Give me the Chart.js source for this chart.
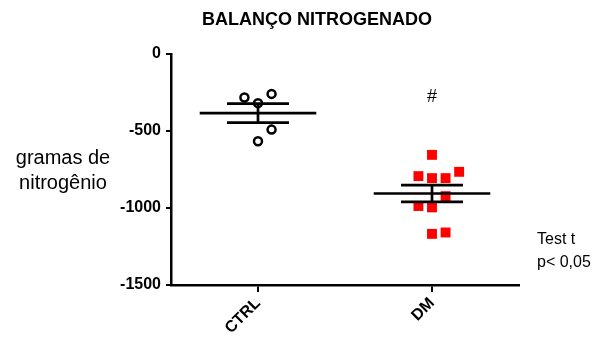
<!DOCTYPE html>
<html>
<head>
<meta charset="utf-8">
<script src="https://cdn.jsdelivr.net/npm/chart.js@4/dist/chart.umd.min.js"></script>
<style>
  html, body { margin: 0; padding: 0; background: #fff; }
  #wrap { width: 604px; height: 340px; }
</style>
</head>
<body>
<div id="wrap"><canvas id="c" width="604" height="340"></canvas></div>
<script>
// Nitrogen balance (grams) per animal, by group
const categories = ['CTRL', 'DM'];
const ctrlValues = [-319, -567, -259, -491, -283];
const dmValues = [-655, -806, -806, -793, -765, -996, -923, -987, -1168, -1159];
const yTickValues = [0, -500, -1000, -1500];

const FONT = '"Liberation Sans", Arial, Helvetica, sans-serif';

function mean(a) { return a.reduce((s, v) => s + v, 0) / a.length; }
function sem(a) {
  const m = mean(a);
  const sd = Math.sqrt(a.reduce((s, v) => s + (v - m) * (v - m), 0) / (a.length - 1));
  return sd / Math.sqrt(a.length);
}

// Simple column swarm: points that would overlap vertically are moved to side columns
function swarmColumns(values, minGap) {
  const order = [0, 1, -1, 2, -2, 3, -3];
  const placed = [];
  return values.map(v => {
    for (const c of order) {
      if (!placed.some(p => p.c === c && Math.abs(p.v - v) < minGap)) {
        placed.push({ c, v });
        return c;
      }
    }
    return 0;
  });
}

const COL_STEP = 0.078;
const GAP = 78;
function toPoints(values, groupIndex) {
  const cols = swarmColumns(values, GAP);
  return values.map((v, i) => ({ x: groupIndex + 1 + cols[i] * COL_STEP, y: v }));
}

const groups = [ctrlValues, dmValues];

// Mean line with SEM whiskers for each group
const meanSemPlugin = {
  id: 'meanSem',
  afterDatasetsDraw(chart) {
    const { ctx, scales: { x, y } } = chart;
    ctx.save();
    ctx.strokeStyle = '#000';
    ctx.lineWidth = 2.7;
    groups.forEach((vals, gi) => {
      const m = mean(vals), e = sem(vals);
      const cx = x.getPixelForValue(gi + 1);
      const meanHalf = x.getPixelForValue(gi + 1 + 0.335) - cx;
      const semHalf = x.getPixelForValue(gi + 1 + 0.178) - cx;
      const ym = y.getPixelForValue(m);
      const yt = y.getPixelForValue(m + e);
      const yb = y.getPixelForValue(m - e);
      ctx.beginPath();
      ctx.moveTo(cx - meanHalf, ym); ctx.lineTo(cx + meanHalf, ym);
      ctx.moveTo(cx - semHalf, yt); ctx.lineTo(cx + semHalf, yt);
      ctx.moveTo(cx - semHalf, yb); ctx.lineTo(cx + semHalf, yb);
      ctx.moveTo(cx, yt); ctx.lineTo(cx, yb);
      ctx.stroke();
    });
    ctx.restore();
  }
};

// Title, y-axis caption, significance mark and test note
const textPlugin = {
  id: 'texts',
  afterDraw(chart) {
    const { ctx, scales: { x } } = chart;
    ctx.save();
    ctx.fillStyle = '#000';
    ctx.textBaseline = 'middle';
    ctx.textAlign = 'center';
    ctx.font = 'bold 18px ' + FONT;
    ctx.fillText('BALANÇO NITROGENADO', 317, 20);
    ctx.font = '20px ' + FONT;
    ctx.fillText('gramas de', 63, 158);
    ctx.fillText('nitrogênio', 63, 183);
    ctx.font = '18px ' + FONT;
    ctx.fillText('#', x.getPixelForValue(2), 97);
    ctx.textAlign = 'left';
    ctx.font = '16px ' + FONT;
    ctx.fillText('Test t', 537, 240);
    ctx.fillText('p< 0,05', 537, 263);
    ctx.restore();
  }
};

new Chart(document.getElementById('c'), {
  type: 'scatter',
  data: {
    datasets: [
      {
        label: categories[0],
        data: toPoints(ctrlValues, 0),
        pointStyle: 'circle',
        pointRadius: 4,
        pointBorderWidth: 2.5,
        pointBorderColor: '#000',
        pointBackgroundColor: '#fff',
        pointHoverRadius: 4
      },
      {
        label: categories[1],
        data: toPoints(dmValues, 1),
        pointStyle: 'rect',
        pointRadius: 7,
        pointBorderWidth: 0,
        pointBorderColor: '#ff0000',
        pointBackgroundColor: '#ff0000',
        pointHoverRadius: 7
      }
    ]
  },
  options: {
    responsive: false,
    devicePixelRatio: 1,
    animation: false,
    events: [],
    layout: { padding: { left: 0, top: 54, right: 85, bottom: 0 } },
    plugins: { legend: { display: false }, tooltip: { enabled: false }, title: { display: false } },
    scales: {
      x: {
        type: 'linear',
        min: 0.5,
        max: 2.5,
        afterBuildTicks: s => { s.ticks = categories.map((_, i) => ({ value: i + 1 })); },
        afterFit: s => { s.height = 55; },
        ticks: {
          callback: v => categories[Math.round(v) - 1],
          minRotation: 45,
          maxRotation: 45,
          autoSkip: false,
          padding: 2,
          color: '#000',
          font: { family: FONT, size: 16, weight: 'bold' }
        },
        grid: { display: true, drawOnChartArea: false, drawTicks: true, tickLength: 7, color: '#000', lineWidth: 2 },
        border: { display: true, color: '#000', width: 2.5 }
      },
      y: {
        type: 'linear',
        min: -1500,
        max: 0,
        afterBuildTicks: s => { s.ticks = yTickValues.map(v => ({ value: v })); },
        afterFit: s => { s.width = 171; },
        ticks: {
          callback: v => String(v),
          padding: 5,
          color: '#000',
          font: { family: FONT, size: 16, weight: 'bold' }
        },
        grid: { display: true, drawOnChartArea: false, drawTicks: true, tickLength: 5, color: '#000', lineWidth: 2 },
        border: { display: true, color: '#000', width: 2.5 }
      }
    }
  },
  plugins: [meanSemPlugin, textPlugin]
});
</script>
</body>
</html>
